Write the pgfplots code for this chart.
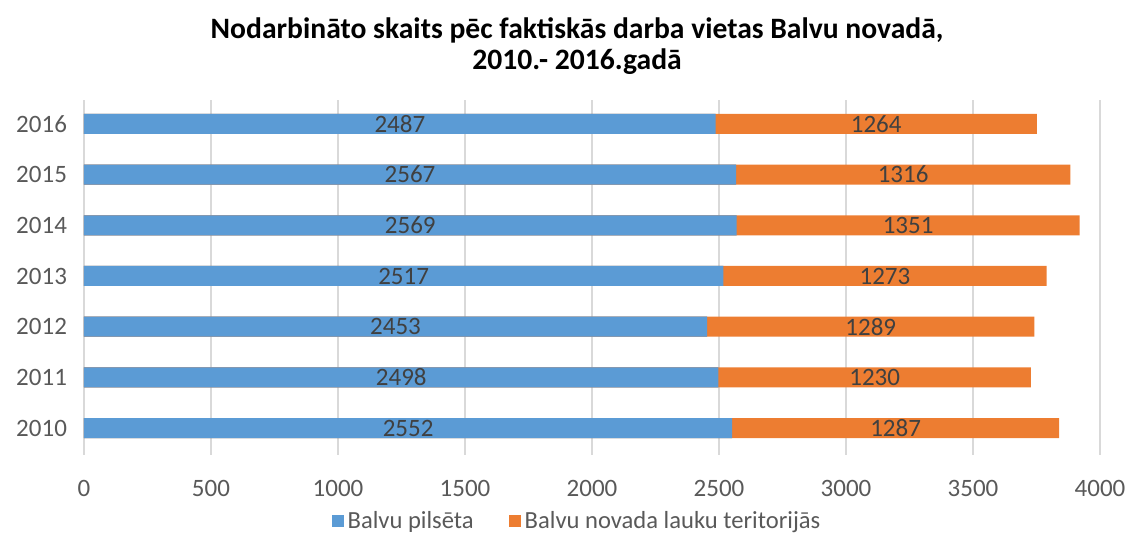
\documentclass[border=0pt]{standalone}
\usepackage{fontspec}
\setmainfont{Carlito}
\usepackage{pgfplots}
\usepackage{pgfplotstable}
\pgfplotsset{compat=1.18}
\definecolor{barblue}{HTML}{5B9BD5}
\definecolor{barorange}{HTML}{ED7D31}
\definecolor{ticktext}{HTML}{595959}
\definecolor{labeltext}{HTML}{404040}
\definecolor{gridgray}{HTML}{D9D9D9}

\pgfplotstableread{
year pilseta lauku
2010 2552 1287
2011 2498 1230
2012 2453 1289
2013 2517 1273
2014 2569 1351
2015 2567 1316
2016 2487 1264
}\nodarbinatie

\begin{document}
\begin{tikzpicture}
\begin{axis}[
    at={(0,0)}, anchor=south west,
    scale only axis,
    width=508pt, height=177.5pt,
    xmin=0, xmax=4000,
    ymin=2009.47, ymax=2016.47,
    xtick={0,500,...,4000},
    ytick={2010,...,2016},
    /pgf/number format/1000 sep={},
    /pgf/number format/assume math mode=true,
    axis line style={draw=none},
    tick style={draw=none},
    xmajorgrids,
    grid style={gridgray, line width=0.9pt},
    ticklabel style={font=\fontsize{12.5}{14}\selectfont, text=ticktext},
    xticklabel style={yshift=-9pt},
    yticklabel style={xshift=-5pt},
    title={Nodarbināto skaits pēc faktiskās darba vietas Balvu novadā,\\2010.- 2016.gadā},
    title style={font=\bfseries\fontsize{14.8}{15.5}\selectfont, align=center,
        at={(0.5,1)}, anchor=south, inner sep=0pt, yshift=6.5pt, xshift=-7.5pt},
    legend style={at={(0.5,0)}, anchor=center, yshift=-33pt, xshift=-7pt,
        draw=none, legend columns=2,
        font=\fontsize{12.3}{14}\selectfont, text=ticktext,
        /tikz/every even column/.append style={column sep=15.5pt}},
    legend image code/.code={\fill[#1] (0pt,-3pt) rectangle (6pt,3pt);},
    barlabel/.style={draw=none, mark=none, forget plot,
        nodes near coords, point meta=explicit,
        every node near coord/.append style={anchor=center, text=labeltext,
            font=\fontsize{12.5}{14}\selectfont}},
]
% blue bars from 0, orange bars from 0 to the total, blue drawn on top
\addplot[xbar, bar width=10pt, bar shift=0pt, fill=barblue, draw=none]
    table[x=pilseta, y=year] {\nodarbinatie};
\addlegendentry{Balvu pilsēta}
\addplot[xbar, bar width=10pt, bar shift=0pt, fill=barorange, draw=none]
    table[x expr=\thisrow{pilseta}+\thisrow{lauku}, y=year] {\nodarbinatie};
\addlegendentry{Balvu novada lauku teritorijās}
\addplot[xbar, bar width=10pt, bar shift=0pt, fill=barblue, draw=none, forget plot]
    table[x=pilseta, y=year] {\nodarbinatie};
% labels in the middle of each segment
\addplot[barlabel] table[x expr=\thisrow{pilseta}/2, y=year, meta=pilseta] {\nodarbinatie};
\addplot[barlabel] table[x expr=\thisrow{pilseta}+\thisrow{lauku}/2, y=year, meta=lauku] {\nodarbinatie};
\end{axis}
\pgfresetboundingbox
\path (-42pt,-39.5pt) rectangle (522.5pt,227.5pt);
\end{tikzpicture}
\end{document}
